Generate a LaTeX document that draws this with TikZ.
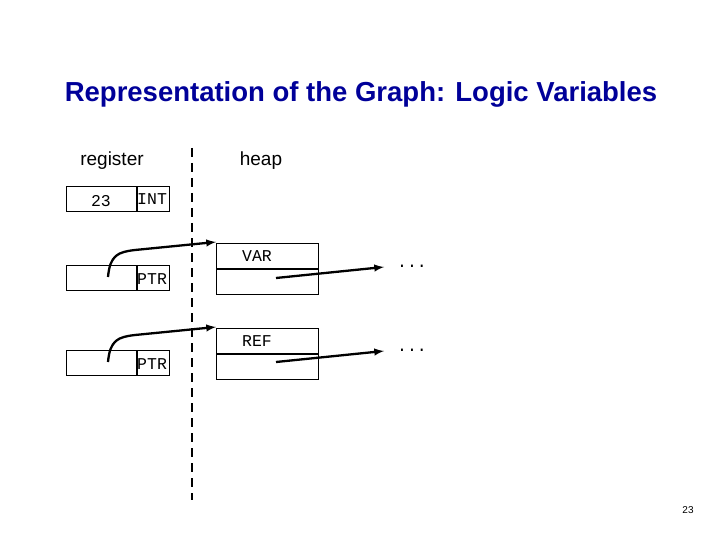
\documentclass[tikz,border=0pt]{standalone}
\usepackage{fontspec}
\setmainfont{Liberation Sans}
\newfontfamily\monof{Liberation Mono}
\begin{document}
\begin{tikzpicture}[x=1pt,y=-1pt,
  cell/.style={draw,line width=1pt,inner sep=0,minimum height=25pt},
  mono/.style={font=\monof\fontsize{16.5}{18}\selectfont},
  ptr/.style={line width=2.3pt,-latex}]
\useasboundingbox (0,0) rectangle (720,540);
\node[font=\bfseries\fontsize{27.5}{30}\selectfont,text=blue!60!black] (title) at (361,94) {Representation of the Graph: Logic Variables};
\node[font=\fontsize{19}{22}\selectfont] (reg) at (112,161) {register};
\node[font=\fontsize{19}{22}\selectfont] (heap) at (261,161) {heap};
\draw[dashed,line width=1.3pt,dash pattern=on 9pt off 6pt] (192,148) coordinate (dtop) -- (192,500) coordinate (dbot);
% register cells
\node[cell,minimum width=70pt] (r1a) at (101,199) {};
\node[cell,minimum width=32pt,anchor=west] (r1b) at (r1a.east) {};
\node[mono] (t23) at (101,201) {23};
\node[mono,anchor=west,inner sep=0] (tint) at (137,199) {INT};
\node[cell,minimum width=70pt] (r2a) at (101,277.5) {};
\node[cell,minimum width=32pt,anchor=west] (r2b) at (r2a.east) {};
\node[mono,anchor=west,inner sep=0] (tp1) at (137,279) {PTR};
\node[cell,minimum width=70pt] (r3a) at (101,362.5) {};
\node[cell,minimum width=32pt,anchor=west] (r3b) at (r3a.east) {};
\node[mono,anchor=west,inner sep=0] (tp2) at (137,364) {PTR};
% heap cells
\node[cell,minimum width=102pt] (h1a) at (267,255.5) {};
\node[cell,minimum width=102pt,anchor=north] (h1b) at (h1a.south) {};
\node[mono] (tvar) at (257,256) {VAR};
\node[cell,minimum width=102pt] (h2a) at (267,340.5) {};
\node[cell,minimum width=102pt,anchor=north] (h2b) at (h2a.south) {};
\node[mono] (tref) at (257,341) {REF};
% pointers
\coordinate (s1) at (108,277);
\coordinate (s2) at (108,362);
\coordinate (e1) at (216,242);
\coordinate (e2) at (216,327);
\draw[ptr] (s1) .. controls (110,255) and (118,252) .. (135,250) -- (e1);
\draw[ptr] (s2) .. controls (110,340) and (118,337) .. (135,335) -- (e2);
\coordinate (d1) at (384,267);
\coordinate (d2) at (384,351);
\coordinate (m1) at (276,278);
\coordinate (m2) at (276,362);
\draw[ptr] (m1) -- (d1);
\draw[ptr] (m2) -- (d2);
\node[mono] (dots1) at (412,266) {...};
\node[mono] (dots2) at (412,350) {...};
\node[font=\fontsize{10}{11}\selectfont] (pg) at (688,510) {23};
\end{tikzpicture}
\end{document}
